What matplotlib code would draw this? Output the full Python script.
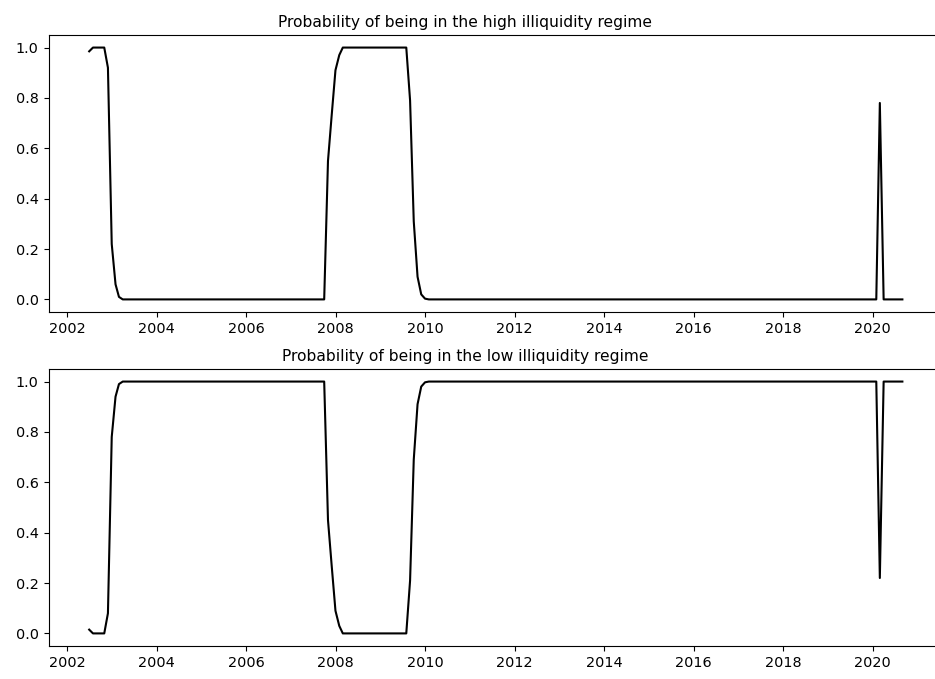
import numpy as np
import pandas as pd
import matplotlib
matplotlib.use("Agg")
import matplotlib.pyplot as plt
import matplotlib.dates as mdates

# monthly dates, Jun 2002 - Aug 2020
dates = pd.date_range("2002-06-30", "2020-08-31", freq="ME")

# smoothed probability of the high illiquidity regime
p_high = ([0.985, 1.0, 1.0, 1.0, 1.0, 0.92, 0.22, 0.06, 0.01]   # Jun 2002 - Feb 2003
          + [0.0] * 55                                          # Mar 2003 - Sep 2007
          + [0.55, 0.73, 0.91, 0.97]                            # Oct 2007 - Jan 2008
          + [1.0] * 18                                          # Feb 2008 - Jul 2009
          + [0.79, 0.31, 0.09, 0.02, 0.003]                     # Aug 2009 - Dec 2009
          + [0.0] * 121                                         # Jan 2010 - Jan 2020
          + [0.78]                                              # Feb 2020
          + [0.0] * 6)                                          # Mar 2020 - Aug 2020

# smoothed probability of the low illiquidity regime
p_low = ([0.015, 0.0, 0.0, 0.0, 0.0, 0.08, 0.78, 0.94, 0.99]
         + [1.0] * 55
         + [0.45, 0.27, 0.09, 0.03]
         + [0.0] * 18
         + [0.21, 0.69, 0.91, 0.98, 0.997]
         + [1.0] * 121
         + [0.22]
         + [1.0] * 6)

titles = ["Probability of being in the high illiquidity regime",
          "Probability of being in the low illiquidity regime"]

plt.rcParams["font.size"] = 10.4

fig = plt.figure(figsize=(9.35, 6.79), dpi=100)
ax1 = fig.add_axes([0.0519, 0.5405, 0.9567, 0.408])
ax2 = fig.add_axes([0.0519, 0.0486, 0.9567, 0.408])

for ax, p, t in zip([ax1, ax2], [p_high, p_low], titles):
    ax.plot(dates, p, color="black", linewidth=1.5)
    # the frame runs past the right edge of the picture, title sits left of its middle
    ax.set_title(t, fontsize=11.2, x=0.466)
    ax.xaxis.set_major_locator(mdates.YearLocator(2))
    ax.xaxis.set_major_formatter(mdates.DateFormatter("%Y"))
    ax.set_yticks([0.0, 0.2, 0.4, 0.6, 0.8, 1.0])

fig.savefig("out.png", dpi=100)
